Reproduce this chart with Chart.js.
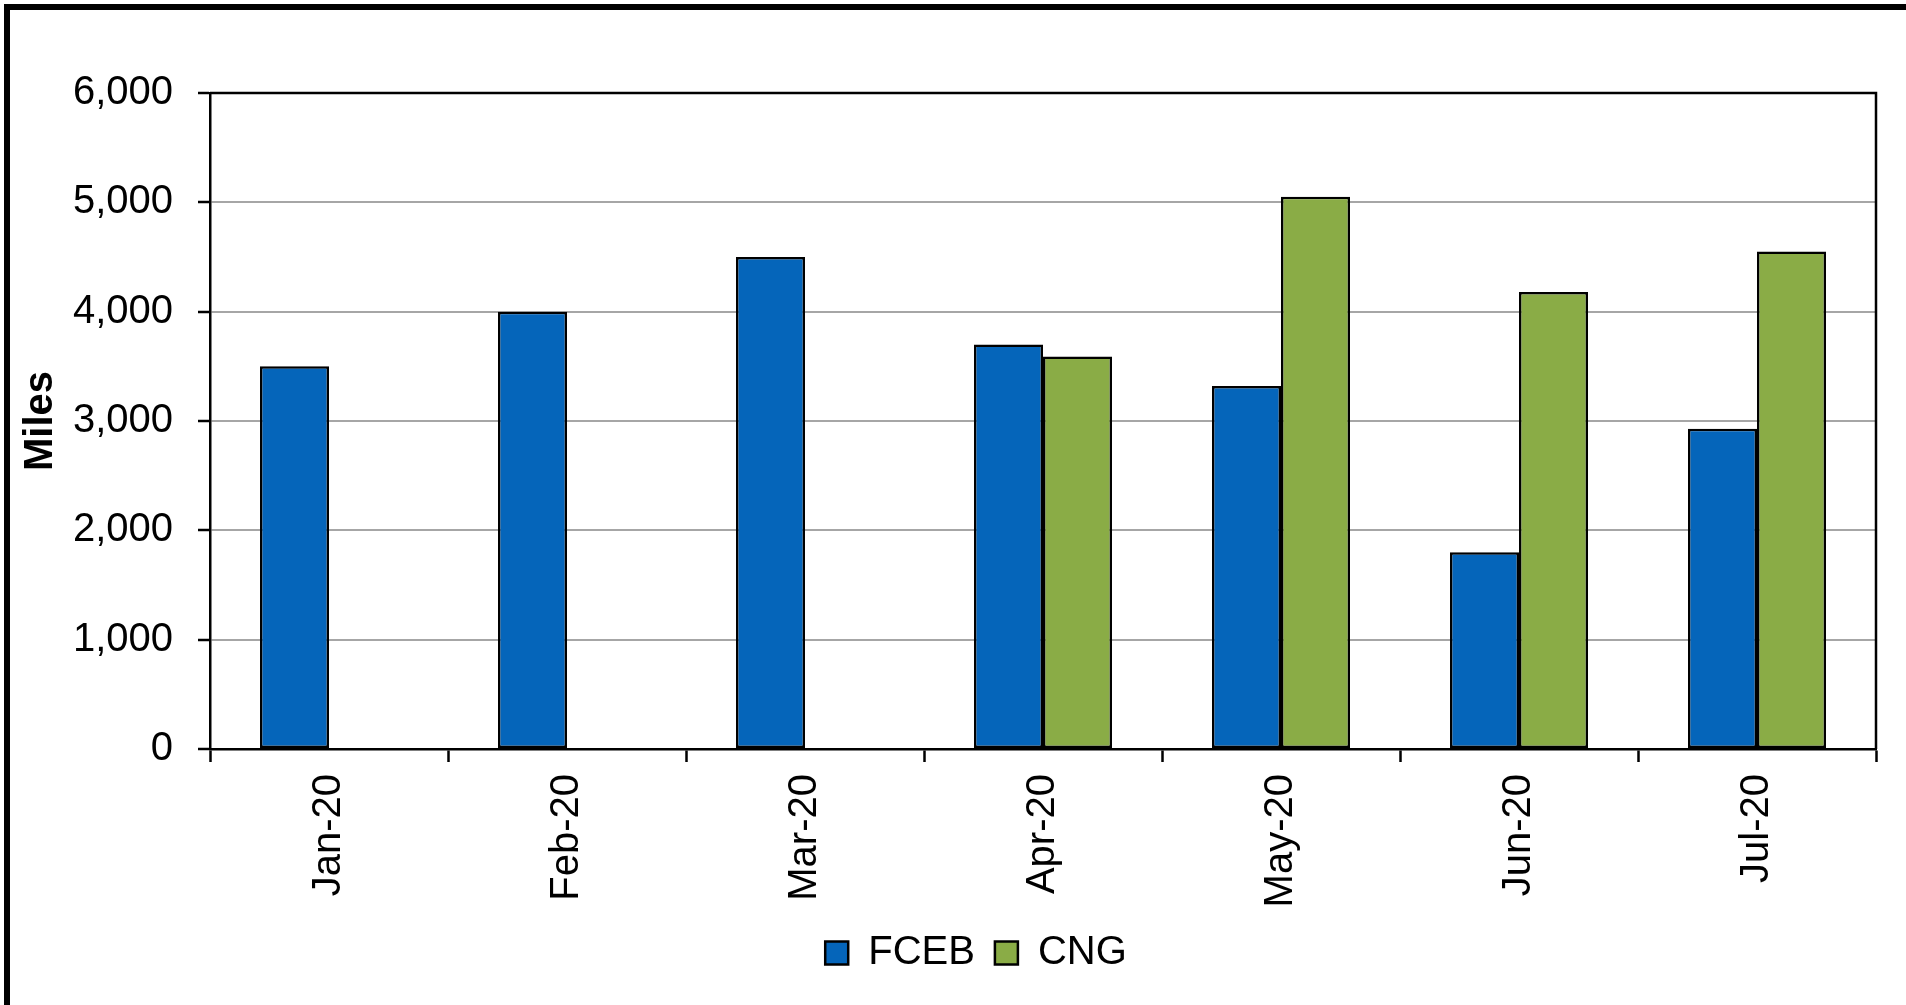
<!doctype html>
<html lang="en">
  <head>
    <meta charset="UTF-8" />
    <title>FCEB vs CNG Miles</title>
    <script src="https://cdn.jsdelivr.net/npm/chart.js"></script>
    <style>
      html, body {
        margin: 0;
        padding: 0;
        background: #fff;
      }
      #wrap {
        width: 1906px;
        height: 1005px;
      }
    </style>
  </head>
  <body>
    <div id="wrap"><canvas id="milesChart" width="1906" height="1005"></canvas></div>

    <script>
      // data
      const months = ["Jan-20", "Feb-20", "Mar-20", "Apr-20", "May-20", "Jun-20", "Jul-20"];
      const fcebMiles = [3500, 4000, 4500, 3700, 3320, 1800, 2930];
      const cngMiles = [null, null, null, 3590, 5050, 4180, 4550];
      const yTicks = [0, 1000, 2000, 3000, 4000, 5000, 6000];

      Chart.defaults.font.family = "'Liberation Sans', Arial, sans-serif";
      Chart.defaults.color = "#000";

      // white background, outer frame, box around plot area
      const framePlugin = {
        id: "frame",
        beforeDraw(chart) {
          const ctx = chart.ctx;
          ctx.save();
          ctx.fillStyle = "#fff";
          ctx.fillRect(0, 0, chart.width, chart.height);
          ctx.fillStyle = "#000";
          ctx.fillRect(4, 4, chart.width - 4, 6);
          ctx.fillRect(4, 4, 6, chart.height - 4);
          ctx.restore();
        },
        afterDraw(chart) {
          const a = chart.chartArea;
          const ctx = chart.ctx;
          ctx.save();
          ctx.strokeStyle = "#000";
          ctx.lineWidth = 2.5;
          ctx.beginPath();
          ctx.moveTo(a.left, a.top);
          ctx.lineTo(a.right, a.top);
          ctx.lineTo(a.right, a.bottom);
          ctx.stroke();
          ctx.restore();
        },
      };

      // nudge legend to match the reference centre
      const legendShift = {
        id: "legendShift",
        afterLayout(chart) {
          const dx = 38;
          chart.legend.left += dx;
          chart.legend.right += dx;
        },
      };

      new Chart(document.getElementById("milesChart").getContext("2d"), {
        type: "bar",
        data: {
          labels: months,
          datasets: [
            {
              label: "FCEB",
              data: fcebMiles,
              backgroundColor: "#0565ba",
              borderColor: "#000",
              borderWidth: 2.5,
              borderSkipped: false,
            },
            {
              label: "CNG",
              data: cngMiles,
              backgroundColor: "#8aac46",
              borderColor: "#000",
              borderWidth: 2.5,
              borderSkipped: false,
            },
          ],
        },
        options: {
          responsive: false,
          animation: false,
          layout: { padding: { top: 93, right: 30, left: 0, bottom: 22 } },
          datasets: {
            bar: { categoryPercentage: 0.58, barPercentage: 1 },
          },
          plugins: {
            tooltip: { enabled: false },
            legend: {
              position: "bottom",
              labels: {
                font: { size: 40 },
                color: "#000",
                boxWidth: 23,
                boxHeight: 23,
                padding: 20,
              },
            },
          },
          scales: {
            x: {
              grid: {
                drawOnChartArea: false,
                tickLength: 13,
                tickColor: "#000",
                tickWidth: 2.5,
              },
              border: { color: "#000", width: 2.5 },
              ticks: {
                font: { size: 40 },
                color: "#000",
                minRotation: 90,
                maxRotation: 90,
                padding: 12,
              },
              afterFit(scale) {
                scale.height = 164;
              },
            },
            y: {
              min: 0,
              max: 6000,
              afterBuildTicks(scale) {
                scale.ticks = yTicks.map((v) => ({ value: v }));
              },
              grid: {
                color: "#a6a6a6",
                lineWidth: 2,
                tickLength: 12,
                tickColor: "#000",
                tickWidth: 2.5,
              },
              border: { color: "#000", width: 2.5 },
              ticks: {
                font: { size: 40 },
                color: "#000",
                padding: 25,
                callback: (v) => v.toLocaleString("en-US"),
              },
              title: {
                display: true,
                text: "Miles",
                font: { size: 40, weight: "bold" },
                color: "#000",
                padding: { top: 17, bottom: 0 },
              },
              afterFit(scale) {
                scale.width = 210;
              },
            },
          },
        },
        plugins: [framePlugin, legendShift],
      });
    </script>
  </body>
</html>
